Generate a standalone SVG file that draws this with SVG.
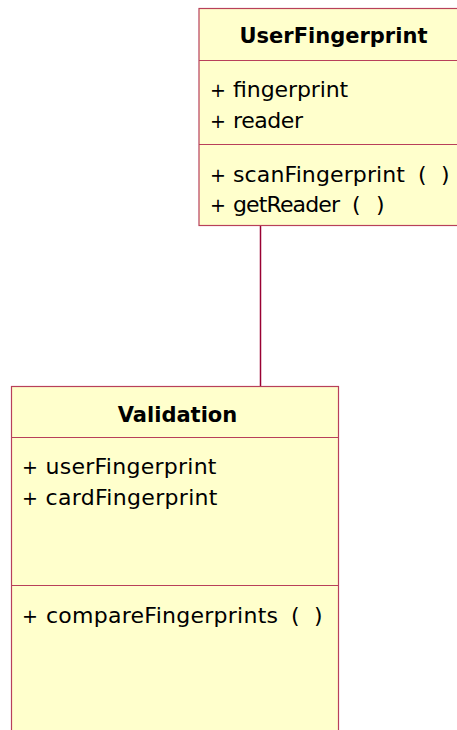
<svg xmlns="http://www.w3.org/2000/svg" width="457" height="730" viewBox="0 0 457 730">
  <style>
    .box { fill: #ffffcc; stroke: #b8405a; stroke-width: 1.2; }
    .div { stroke: #b8405a; stroke-width: 1.2; }
    .title { font-family: "DejaVu Sans", sans-serif; font-size: 21px; font-weight: bold; fill: #000; text-anchor: middle; }
    .member { font-family: "DejaVu Sans", sans-serif; font-size: 22px; fill: #000; }
    .plus { font-size: 19px; }
    .link { stroke: #990033; stroke-width: 1.5; fill: none; }
  </style>
  <rect width="457" height="730" fill="#ffffff"/>

  <!-- association between the two classes -->
  <g id="connectors">
    <line class="link" x1="260.5" y1="226" x2="260.5" y2="386"/>
  </g>

  <g id="UserFingerprint">
    <rect class="box" x="199" y="8.5" width="270" height="217"/>
    <line class="div" x1="199" y1="60.5" x2="469" y2="60.5"/>
    <line class="div" x1="199" y1="144.5" x2="469" y2="144.5"/>
    <text class="title" x="333.5" y="43">UserFingerprint</text>
    <text class="member" x="210" y="97"><tspan class="plus">+</tspan><tspan x="233" textLength="115" lengthAdjust="spacing">fingerprint</tspan></text>
    <text class="member" x="210" y="128"><tspan class="plus">+</tspan><tspan x="233" textLength="70" lengthAdjust="spacing">reader</tspan></text>
    <text class="member" x="210" y="182"><tspan class="plus">+</tspan><tspan x="233" textLength="172" lengthAdjust="spacing">scanFingerprint</tspan><tspan x="418">(</tspan><tspan x="441">)</tspan></text>
    <text class="member" x="210" y="212"><tspan class="plus">+</tspan><tspan x="233" textLength="107" lengthAdjust="spacing">getReader</tspan><tspan x="352">(</tspan><tspan x="376">)</tspan></text>
  </g>

  <g id="Validation">
    <rect class="box" x="11.5" y="386.5" width="327" height="360"/>
    <line class="div" x1="11.5" y1="437.5" x2="338.5" y2="437.5"/>
    <line class="div" x1="11.5" y1="585.5" x2="338.5" y2="585.5"/>
    <text class="title" x="177.5" y="422">Validation</text>
    <text class="member" x="22" y="474"><tspan class="plus">+</tspan><tspan x="45.5" textLength="171" lengthAdjust="spacing">userFingerprint</tspan></text>
    <text class="member" x="22" y="505"><tspan class="plus">+</tspan><tspan x="45.5" textLength="172" lengthAdjust="spacing">cardFingerprint</tspan></text>
    <text class="member" x="22" y="623"><tspan class="plus">+</tspan><tspan x="46" textLength="232" lengthAdjust="spacing">compareFingerprints</tspan><tspan x="291">(</tspan><tspan x="314">)</tspan></text>
  </g>
</svg>
